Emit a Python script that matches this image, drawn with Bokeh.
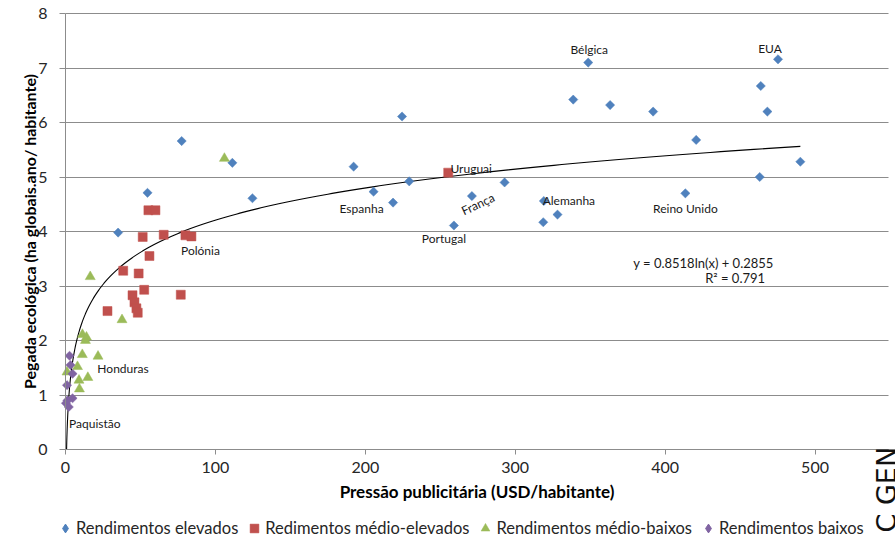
import numpy as np
from bokeh.plotting import figure
from bokeh.models import (ColumnDataSource, Label, FixedTicker, Range1d, Legend,
                          LegendItem)
from bokeh.core.properties import value
from bokeh.embed import file_html
from bokeh.resources import INLINE

# ---------------- data ----------------
high_x = [35.1, 54.7, 77.5, 111.3, 124.7, 192.2, 205.5, 218.5, 224.5, 229.3, 259.1, 271.1,
          292.9, 319.1, 318.7, 328.2, 338.7, 348.7, 363.3, 392.0, 420.7, 413.5, 463.8,
          475.3, 468.2, 463.1, 490.2]
high_y = [3.98, 4.71, 5.66, 5.26, 4.61, 5.19, 4.73, 4.53, 6.11, 4.92, 4.11, 4.65,
          4.90, 4.56, 4.17, 4.31, 6.42, 7.10, 6.32, 6.20, 5.68, 4.70, 6.67,
          7.16, 6.20, 5.00, 5.28]

midhigh_x = [55.3, 60.0, 51.5, 65.5, 80.0, 84.0, 56.0, 38.5, 48.8, 52.5, 76.9, 44.7,
             46.0, 47.3, 48.2, 28.0, 255.3]
midhigh_y = [4.39, 4.39, 3.90, 3.94, 3.93, 3.91, 3.55, 3.28, 3.23, 2.93, 2.84, 2.83,
             2.70, 2.59, 2.51, 2.54, 5.08]

midlow_x = [16.5, 37.7, 11.3, 14.0, 13.3, 21.7, 11.2, 8.0, 1.0, 14.9, 9.0, 9.3, 106.0]
midlow_y = [3.17, 2.38, 2.11, 2.06, 2.00, 1.71, 1.74, 1.52, 1.42, 1.32, 1.27, 1.11, 5.34]

low_x = [2.7, 3.3, 4.7, 1.0, 0.3, 4.7, 2.2, 1.3]
low_y = [1.72, 1.55, 1.39, 1.18, 0.85, 0.94, 0.78, 0.90]

series_names = ["Rendimentos elevados", "Redimentos médio-elevados",
                "Rendimentos médio-baixos", "Rendimentos baixos"]

# country labels: (name, series, index in series)
label_names = ["Bélgica", "EUA", "Uruguai", "Espanha", "França", "Portugal",
               "Alemanha", "Reino Unido", "Polónia", "Honduras", "Paquistão"]
label_series = ["high", "high", "midhigh", "high", "high", "high",
                "high", "high", "midhigh", "midlow", "low"]
label_index = [17, 23, 16, 6, 11, 10, 13, 21, 4, 5, 6]

# logarithmic trendline shown in chart
trend_a = 0.8518
trend_b = 0.2855
trend_r2 = 0.791
trend_x_start = 0.72
trend_x_end = 490.2

x_ticks = [0, 100, 200, 300, 400, 500]
y_ticks = [0, 1, 2, 3, 4, 5, 6, 7, 8]
x_axis_max = 549
y_axis_max = 8

# ---------------- layout (pixels) ----------------
W, H = 895, 539
AX_LEFT, AX_RIGHT, AX_TOP, AX_BOTTOM = 65, 888, 13, 449   # plot-area box in the picture
sx_per = (AX_RIGHT - AX_LEFT) / x_axis_max
sy_per = (AX_BOTTOM - AX_TOP) / y_axis_max
x_start, x_end = -AX_LEFT / sx_per, (W - AX_LEFT) / sx_per
y_start, y_end = -(H - AX_BOTTOM) / sy_per, AX_BOTTOM / sy_per

# ---------------- styling ----------------
FONT = "Lato"
BLUE, RED, GREEN, PURPLE = "#4F81BD", "#C0504D", "#9BBB59", "#8064A2"
GRID = "#8C8C8C"

p = figure(width=W, height=H, output_backend="svg", toolbar_location=None,
           x_range=Range1d(x_start, x_end), y_range=Range1d(y_start, y_end),
           min_border_left=0, min_border_right=0, min_border_top=0,
           min_border_bottom=0)
p.outline_line_color = None
p.background_fill_color = "white"
p.border_fill_color = "white"

p.xaxis.ticker = FixedTicker(ticks=x_ticks)
p.yaxis.ticker = FixedTicker(ticks=y_ticks)
p.xaxis.fixed_location = 0
p.yaxis.fixed_location = 0
p.xaxis.bounds = (0, x_axis_max)
p.yaxis.bounds = (0, y_axis_max)
for ax in (p.xaxis[0], p.yaxis[0]):
    ax.axis_line_color = GRID
    ax.major_tick_line_color = GRID
    ax.minor_tick_line_color = None
    ax.major_tick_in = 0
    ax.major_tick_out = 5
    ax.major_label_text_font = FONT
    ax.major_label_text_font_size = "16px"
    ax.major_label_text_color = "#262626"
    ax.axis_label_text_font = FONT
    ax.axis_label_text_font_style = "bold"
    ax.axis_label_text_color = "#000000"

p.xaxis.axis_label = "Pressão publicitária (USD/habitante)"
p.xaxis.axis_label_text_font_size = "17px"
p.xaxis.major_label_standoff = 7
p.xaxis.axis_label_standoff = 5

p.yaxis.axis_label = "Pegada ecológica (ha globais.ano/ habitante)"
p.yaxis.axis_label_text_font_size = "16px"
p.yaxis.major_tick_out = 6
p.yaxis.major_label_standoff = 12
p.yaxis.axis_label_standoff = -4

# horizontal grid lines limited to the plot area
p.xgrid.grid_line_color = None
grid_ok = False
try:
    p.ygrid.cross_bounds = (0, x_axis_max)
    p.ygrid.bounds = (0, y_axis_max)
    grid_ok = True
except Exception:
    grid_ok = False
if grid_ok:
    p.ygrid.grid_line_color = GRID
    p.ygrid.grid_line_width = 1
else:
    p.ygrid.grid_line_color = None
    gy = [t for t in y_ticks if t > 0]
    p.segment(x0=[0] * len(gy), x1=[x_axis_max] * len(gy), y0=gy, y1=gy,
              line_color=GRID, line_width=1)

# trendline
tx = np.geomspace(trend_x_start, trend_x_end, 400)
ty = trend_a * np.log(tx) + trend_b
p.line(tx, ty, line_color="black", line_width=1.1)

# series
src_high = ColumnDataSource(dict(x=high_x, y=high_y))
src_mh = ColumnDataSource(dict(x=midhigh_x, y=midhigh_y))
src_ml = ColumnDataSource(dict(x=midlow_x, y=midlow_y))
src_low = ColumnDataSource(dict(x=low_x, y=low_y))

p.scatter("x", "y", source=src_high, marker="square", angle=np.pi / 4, size=6.5,
          fill_color=BLUE, line_color=BLUE, line_width=0.5)
r_mh = p.scatter("x", "y", source=src_mh, marker="square", size=9,
                 fill_color=RED, line_color=RED, line_width=0.5)
r_ml = p.scatter("x", "y", source=src_ml, marker="triangle", size=10,
                 fill_color=GREEN, line_color=GREEN, line_width=0.5)
p.scatter("x", "y", source=src_low, marker="square", angle=np.pi / 4, size=6.5,
          fill_color=PURPLE, line_color=PURPLE, line_width=0.5)

# legend-only diamond glyphs (a single undrawable NaN point each)
leg_high = p.scatter(x=[np.nan], y=[np.nan], marker="diamond",
                     fill_color=BLUE, line_color=BLUE)
leg_low = p.scatter(x=[np.nan], y=[np.nan], marker="diamond",
                    fill_color=PURPLE, line_color=PURPLE)

# country labels
lookup = {"high": (high_x, high_y), "midhigh": (midhigh_x, midhigh_y),
          "midlow": (midlow_x, midlow_y), "low": (low_x, low_y)}
lx = [lookup[s][0][i] for s, i in zip(label_series, label_index)]
ly = [lookup[s][1][i] for s, i in zip(label_series, label_index)]
offs = {"Bélgica": (1, -13, 0), "EUA": (-8, -11, 0), "Uruguai": (23, -4, 0),
        "Espanha": (-12, 17, 0), "França": (6, 8, 25), "Portugal": (-10, 13, 0),
        "Alemanha": (25, 0, 0), "Reino Unido": (0, 15, 0), "Polónia": (15, 15, 0),
        "Honduras": (25, 12, 0), "Paquistão": (26, 17, 0)}
lsrc = ColumnDataSource(dict(
    x=lx, y=ly, text=label_names,
    dx=[offs[n][0] for n in label_names],
    dy=[offs[n][1] for n in label_names],
    ang=[np.deg2rad(offs[n][2]) for n in label_names]))
p.text("x", "y", text="text", source=lsrc, x_offset="dx", y_offset="dy", angle="ang",
       text_align="center", text_baseline="middle", text_font=value(FONT),
       text_font_size="12px", text_color="#1a1a1a")

# equation
p.add_layout(Label(x=426.7, y=3.43, text=f"y = {trend_a}ln(x)  + {trend_b}",
                   text_align="center", text_baseline="middle", text_font=FONT,
                   text_font_size="13px", text_color="#1a1a1a"))
p.add_layout(Label(x=446.7, y=3.15, text=f"R² = {trend_r2}",
                   text_align="center", text_baseline="middle", text_font=FONT,
                   text_font_size="13px", text_color="#1a1a1a"))

# legend along the bottom edge
legend = Legend(items=[LegendItem(label=series_names[0], renderers=[leg_high]),
                       LegendItem(label=series_names[1], renderers=[r_mh]),
                       LegendItem(label=series_names[2], renderers=[r_ml]),
                       LegendItem(label=series_names[3], renderers=[leg_low])],
                orientation="horizontal", location=(54, 0),
                glyph_width=22, glyph_height=22, label_height=22, label_standoff=0,
                spacing=5, padding=0, margin=0, border_line_color=None,
                background_fill_alpha=0, label_text_font=FONT,
                label_text_font_size="16.5px", label_text_color="#262626")
p.add_layout(legend)

# cut-off rotated watermark text at right edge
p.add_layout(Label(x=870, y=7, x_units="screen", y_units="screen", text="C GEN",
                   angle=np.pi / 2, text_align="left", text_baseline="top",
                   text_font="DejaVu Sans", text_font_size="27px", text_color="#111111"))

open("out.html", "w").write(file_html(p, INLINE))
